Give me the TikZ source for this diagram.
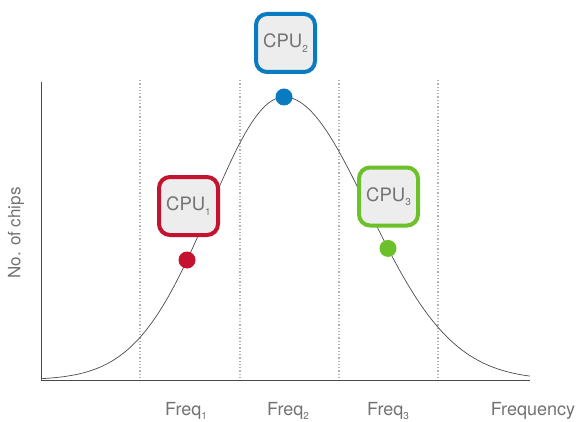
\documentclass[tikz,border=0pt]{standalone}
\usepackage{fontspec}
\setmainfont{TeX Gyre Heros}
\definecolor{cpured}{HTML}{C4122F}
\definecolor{cpublue}{HTML}{0A7BC0}
\definecolor{cpugreen}{HTML}{6CC12A}
\definecolor{boxfill}{HTML}{EDEDED}
\definecolor{labelgray}{HTML}{727272}
\definecolor{axisgray}{HTML}{4A4A4A}
% small, deeply lowered index
\newcommand\lowidx[1]{\raisebox{-0.45ex}{\fontsize{10}{10}\selectfont #1}}
\begin{document}
\begin{tikzpicture}[x=1pt,y=-1pt,
  cpubox/.style={draw=#1, line width=4pt, rounded corners=11pt, fill=boxfill,
    minimum width=59pt, minimum height=58pt, inner sep=0pt,
    font=\fontsize{18.5}{18.5}\selectfont, text=labelgray},
  cpudot/.style={circle, fill=#1, minimum size=17pt, inner sep=0pt},
  freqlabel/.style={font=\fontsize{18}{18}\selectfont, text=labelgray, anchor=base},
  gridline/.style={draw=gray!60, line width=1.3pt, dotted},
  axisline/.style={draw=axisgray, line width=0.9pt}]
\useasboundingbox (0,0) rectangle (580,422);
% grid of frequency bins
\foreach \gx/\gn in {140/g1,240/g2,339/g3,438/g4}{
  \coordinate (\gn top) at (\gx,80);
  \coordinate (\gn bot) at (\gx,380);
  \draw[gridline] (\gn top) -- (\gn bot);
}
% axes
\coordinate (ytop) at (41,82);
\coordinate (origin) at (41,380);
\coordinate (xend) at (530,380);
\draw[axisline] (ytop) -- (origin) -- (xend);
% distribution of chips over frequency
\draw[axisgray, line width=0.7pt, smooth]
  plot[domain=41:284, samples=80] (\x, {380-283*exp(-0.5*((\x-284)/74)^2)})
  -- plot[domain=284:530, samples=80] (\x, {380-283*exp(-0.5*((\x-284)/84)^2)});
% sample points
\node[cpudot=cpured] (d1) at (187,260) {};
\node[cpudot=cpublue] (d2) at (284,97) {};
\node[cpudot=cpugreen] (d3) at (388,248.4) {};
% CPU tags
\node[cpubox=cpured] (c1) at (188.5,206) {CPU\lowidx{1}};
\node[cpubox=cpublue] (c2) at (285.5,43) {CPU\lowidx{2}};
\node[cpubox=cpugreen] (c3) at (388.5,196.5) {CPU\lowidx{3}};
% axis labels
\node[freqlabel] (f1) at (186,415) {Freq\lowidx{1}};
\node[freqlabel] (f2) at (288,415) {Freq\lowidx{2}};
\node[freqlabel] (f3) at (388,415) {Freq\lowidx{3}};
\node[freqlabel] (fq) at (533,415) {Frequency};
\node[font=\fontsize{17}{17}\selectfont, text=labelgray, rotate=90] (ny) at (16,233) {No. of chips};
\end{tikzpicture}
\end{document}
